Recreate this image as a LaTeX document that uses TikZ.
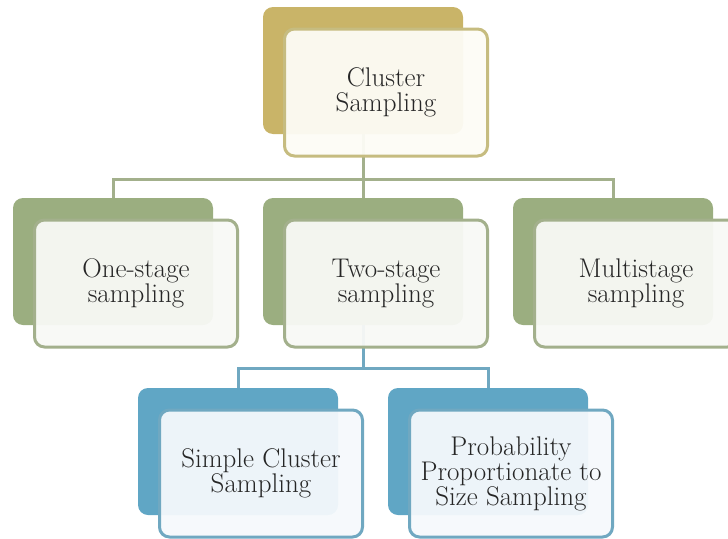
\documentclass[tikz,border=0pt]{standalone}
\usepackage{tikz}
\usetikzlibrary{positioning}

\definecolor{goldback}{RGB}{201,180,104}
\definecolor{goldline}{RGB}{198,188,128}
\definecolor{goldfill}{RGB}{253,252,246}
\definecolor{greenback}{RGB}{155,174,128}
\definecolor{greenline}{RGB}{163,176,140}
\definecolor{greenfill}{RGB}{248,249,246}
\definecolor{blueback}{RGB}{96,166,197}
\definecolor{blueline}{RGB}{112,168,193}
\definecolor{bluefill}{RGB}{245,249,252}

\tikzset{
    backbox/.style={fill=#1, rounded corners=10pt, minimum width=200pt, minimum height=127pt, inner sep=0pt},
    frontbox/.style 2 args={draw=#1, fill=#2, line width=3pt, fill opacity=0.95, text opacity=1,
        rounded corners=10pt, minimum width=203pt, minimum height=127pt, inner sep=0pt,
        align=center, text=black!85, font=\fontsize{27}{25}\selectfont},
    link/.style={draw=#1, line width=3pt},
}

\begin{document}
\begin{tikzpicture}[x=1pt, y=-1pt]
    \clip (0,0) rectangle (728,538);

    % back boxes
    \node[backbox=goldback] (csb) at (363,70.5) {};
    \node[backbox=greenback] (oneb) at (113,261.5) {};
    \node[backbox=greenback] (twob) at (363,261.5) {};
    \node[backbox=greenback] (multb) at (613,261.5) {};
    \node[backbox=blueback] (scsb) at (238,451.5) {};
    \node[backbox=blueback] (ppsb) at (488,451.5) {};

    % first level
    \draw[link=greenline] (csb.south) -- ++(0,45) -| (oneb.north);
    \draw[link=greenline] (csb.south) -- ++(0,45) -| (multb.north);
    \draw[link=greenline] (csb.south) -- (twob.north);

    % second level
    \draw[link=blueline] (twob.south) -- ++(0,43) -| (scsb.north);
    \draw[link=blueline] (twob.south) -- ++(0,43) -| (ppsb.north);

    % front boxes
    \node[frontbox={goldline}{goldfill}] (cs) at ([shift={(23,22)}]csb.center) {Cluster\\Sampling};
    \node[frontbox={greenline}{greenfill}] (one) at ([shift={(23,22)}]oneb.center) {One-stage\\sampling};
    \node[frontbox={greenline}{greenfill}] (two) at ([shift={(23,22)}]twob.center) {Two-stage\\sampling};
    \node[frontbox={greenline}{greenfill}] (mult) at ([shift={(23,22)}]multb.center) {Multistage\\sampling};
    \node[frontbox={blueline}{bluefill}] (scs) at ([shift={(23,22)}]scsb.center) {Simple Cluster\\Sampling};
    \node[frontbox={blueline}{bluefill}] (pps) at ([shift={(23,22)}]ppsb.center) {Probability\\Proportionate to\\Size Sampling};
\end{tikzpicture}
\end{document}
